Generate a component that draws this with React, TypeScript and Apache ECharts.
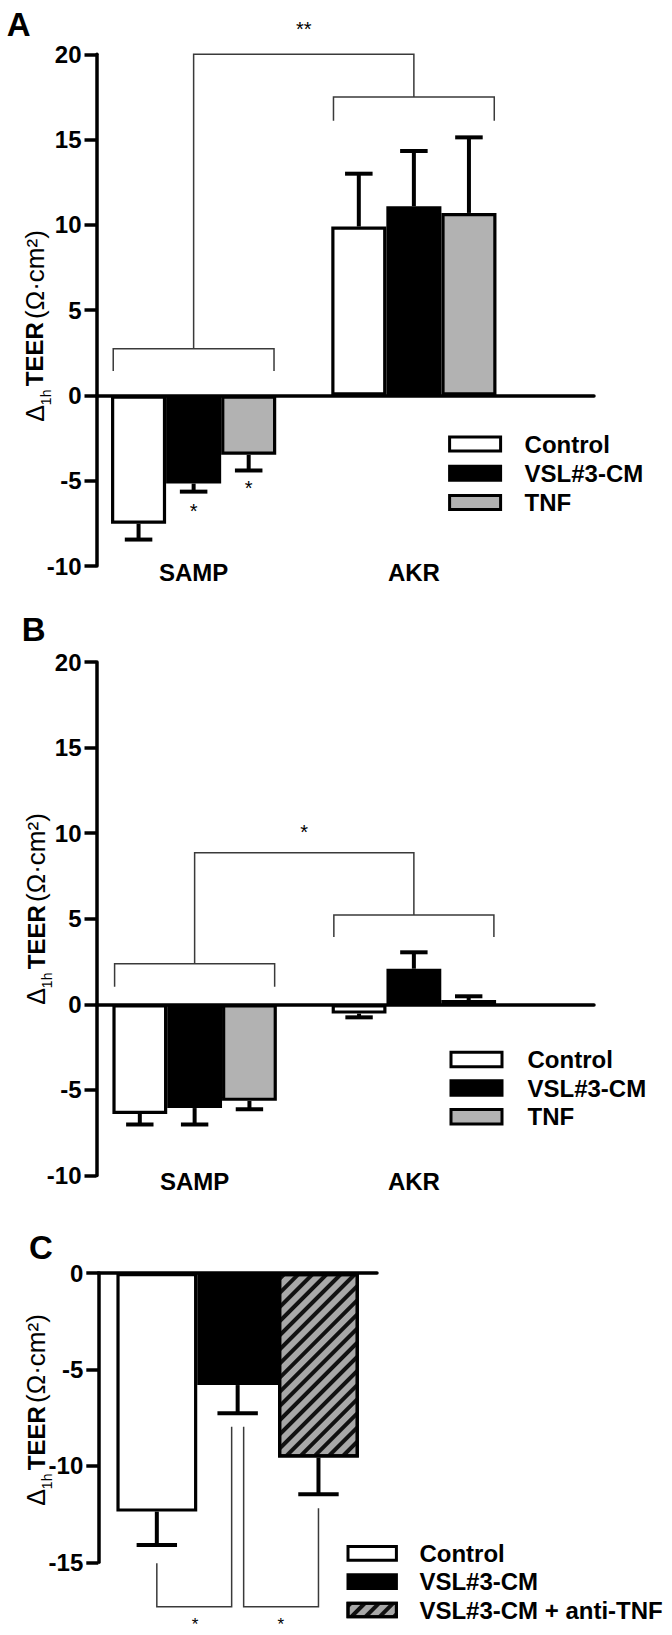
import React, { useEffect, useRef } from 'react';
import * as echarts from 'echarts';

const FONT = '"Liberation Sans", Arial, Helvetica, sans-serif';
const NARROW = '"Liberation Sans Narrow", "Arial Narrow", "Liberation Sans", Arial, sans-serif';

// ---------- shared ----------
const strains = ['SAMP', 'AKR'];
const namesAB = ['Control', 'VSL#3-CM', 'TNF'];
const yRangeAB = [-10, 20];
const yStepAB = 5;

// ---------- panel A ----------
const aControl = [-7.52, 9.9];
const aControlErr = [0.93, 3.1];
const aVsl = [-5.17, 11.09];
const aVslErr = [0.47, 3.24];
const aTnf = [-3.48, 10.7];
const aTnfErr = [0.92, 4.43];
// [category, bracket level, tip level]
const aGroupBrackets = [[0, 2.73, 1.43], [1, 17.5, 16.1]];
// [category, top, left end, right end]
const aLinkBracket = [[0, 20, 2.73, 17.5]];
// [category, value, offset (bands)]
const aStars = [[0, 21.47, 0.5], [0, -6.75, 0], [0, -5.43, 0.25]];
const aStarText = ['**', '*', '*'];

// ---------- panel B ----------
const bControl = [-6.4, -0.54];
const bControlErr = [0.62, 0.22];
const bVsl = [-6.06, 2.08];
const bVslErr = [0.96, 0.96];
const bTnf = [-5.64, 0.25];
const bTnfErr = [0.49, 0.22];
const bGroupBrackets = [[0, 2.37, 1.03], [1, 5.22, 3.93]];
const bLinkBracket = [[0, 8.85, 2.37, 5.22]];
const bStars = [[0, 10.07, 0.5]];
const bStarText = ['*'];

// ---------- panel C ----------
const cNames = ['Control', 'VSL#3-CM', 'VSL#3-CM + anti-TNF'];
const cValues = [-12.37, -5.81, -9.57];
const cErr = [1.73, 1.46, 1.9];
const yRangeC = [-15, 0];
const yStepC = 5;
// [category, base level, from bar, from tip, to bar, to tip]
const cBrackets = [[0, -17.3, 0, -15.05, 1, -7.97], [0, -17.3, 1, -7.97, 2, -12.2]];
const cStars = [[0, -18.2, -0.153], [0, -18.2, 0.155]];
const cStarText = ['*', '*'];

const fills = ['#ffffff', '#000000', '#b2b2b2'];
const hatchFill = '#a8a8a8';

const BAR_AB = 0.25;
const BAR_C = 0.29;

function errorSeries(xi: number, yi: number, data: number[][], frac: number) {
  return {
    type: 'custom', name: 'err' + xi, xAxisIndex: xi, yAxisIndex: yi, data, silent: true, z: 5, clip: false,
    encode: { x: 0, y: 1 },
    renderItem: (params: any, api: any) => {
      const cat = api.value(0), v = api.value(1), e = api.value(2), k = api.value(3);
      const band = api.size([1, 0])[0];
      const bw = band * frac;
      const p0 = api.coord([cat, v]);
      const p1 = api.coord([cat, v >= 0 ? v + e : v - e]);
      const cx = p0[0] + (k - 1) * bw;
      const half = bw / 4;
      const st = { stroke: '#000', lineWidth: 4, lineCap: 'butt' };
      return {
        type: 'group', children: [
          { type: 'line', shape: { x1: cx, y1: p0[1], x2: cx, y2: p1[1] }, style: st },
          { type: 'line', shape: { x1: cx - half, y1: p1[1], x2: cx + half, y2: p1[1] }, style: st },
        ],
      };
    },
  };
}

const thin = { stroke: '#3a3a3a', lineWidth: 1.5, fill: null };

function groupBracketSeries(xi: number, yi: number, data: number[][]) {
  return {
    type: 'custom', name: 'gb' + xi, xAxisIndex: xi, yAxisIndex: yi, data, silent: true, clip: false,
    encode: { x: 0, y: 1 },
    renderItem: (params: any, api: any) => {
      const cat = api.value(0);
      const p = api.coord([cat, api.value(1)]);
      const t = api.coord([cat, api.value(2)]);
      const band = api.size([1, 0])[0];
      const x1 = p[0] - 0.365 * band, x2 = p[0] + 0.365 * band;
      return { type: 'polyline', shape: { points: [[x1, t[1]], [x1, p[1]], [x2, p[1]], [x2, t[1]]] }, style: thin };
    },
  };
}

function linkBracketSeries(xi: number, yi: number, data: number[][]) {
  return {
    type: 'custom', name: 'lb' + xi, xAxisIndex: xi, yAxisIndex: yi, data, silent: true, clip: false,
    encode: { x: 0, y: 1 },
    renderItem: (params: any, api: any) => {
      const top = api.coord([0, api.value(1)]);
      const l = api.coord([0, api.value(2)]);
      const r = api.coord([1, api.value(3)]);
      return { type: 'polyline', shape: { points: [[l[0], l[1]], [l[0], top[1]], [r[0], top[1]], [r[0], r[1]]] }, style: thin };
    },
  };
}

function starSeries(xi: number, yi: number, data: number[][], texts: string[], size: number) {
  return {
    type: 'custom', name: 'st' + xi, xAxisIndex: xi, yAxisIndex: yi, data, silent: true, clip: false,
    encode: { x: 0, y: 1 },
    renderItem: (params: any, api: any) => {
      const p = api.coord([api.value(0), api.value(1)]);
      const band = api.size([1, 0])[0];
      return {
        type: 'text', x: p[0] + api.value(2) * band, y: p[1],
        style: { text: texts[params.dataIndex], fill: '#000', font: `${size}px ${FONT}`, align: 'center', verticalAlign: 'middle' },
      };
    },
  };
}

function cBracketSeries(xi: number, yi: number, data: number[][]) {
  return {
    type: 'custom', name: 'cb', xAxisIndex: xi, yAxisIndex: yi, data, silent: true, clip: false,
    encode: { x: 0, y: 1 },
    renderItem: (params: any, api: any) => {
      const band = api.size([1, 0])[0];
      const bw = band * BAR_C;
      const base = api.coord([0, api.value(1)]);
      const fb = api.value(2), tb = api.value(4);
      const xOf = (bar: number, other: number) => base[0] + (bar - 1) * bw + (bar === 1 ? 6 * Math.sign(other - bar) : 0);
      const xf = xOf(fb, tb), xt = xOf(tb, fb);
      const yf = api.coord([0, api.value(3)])[1];
      const yt = api.coord([0, api.value(5)])[1];
      return { type: 'polyline', shape: { points: [[xf, yf], [xf, base[1]], [xt, base[1]], [xt, yt]] }, style: thin };
    },
  };
}

function barSeries(name: string, xi: number, yi: number, data: number[], color: string, width: string, extra: any = {}) {
  return {
    type: 'bar', name, xAxisIndex: xi, yAxisIndex: yi, data, barWidth: width, barGap: '0%', z: 3,
    itemStyle: { color, borderColor: '#000', borderWidth: 3.2, ...extra },
  };
}

const tickLabel = { fontFamily: FONT, fontSize: 24, fontWeight: 'bold', color: '#000' };

function visibleY(gi: number, min: number, max: number, step: number) {
  return {
    type: 'value', gridIndex: gi, min, max, interval: step,
    axisLine: { show: true, onZero: false, lineStyle: { color: '#000', width: 3.5 } },
    axisTick: { show: true, length: 12, lineStyle: { color: '#000', width: 3.5 } },
    axisLabel: { ...tickLabel, margin: 15 },
    splitLine: { show: false },
  };
}
function hiddenY(gi: number, min: number, max: number, step: number) {
  return { type: 'value', gridIndex: gi, min, max, interval: step, show: false, splitLine: { show: false } };
}
function zeroX(gi: number) {
  return {
    type: 'category', gridIndex: gi, data: [''],
    axisLine: { show: true, onZero: true, lineStyle: { color: '#000', width: 3.5 } },
    axisTick: { show: false }, axisLabel: { show: false },
  };
}
function groupX(gi: number) {
  return {
    type: 'category', gridIndex: gi, data: strains, position: 'bottom',
    axisLine: { show: false, onZero: false }, axisTick: { show: false },
    axisLabel: { ...tickLabel, margin: 6, verticalAlign: 'middle' },
  };
}

function legend(left: number, top: number, w: number, h: number, gap: number, pad: number, data: string[]) {
  return {
    orient: 'vertical', left, top, padding: 0, itemWidth: w, itemHeight: h, itemGap: gap,
    selectedMode: false, icon: 'rect', data,
    itemStyle: { borderWidth: 3, borderColor: '#000' },
    textStyle: { fontFamily: FONT, fontSize: 24, fontWeight: 'bold', color: '#000', padding: [0, 0, 0, pad] },
  };
}

function yTitle(x: number, y: number) {
  return {
    type: 'text', x, y, rotation: Math.PI / 2, silent: true,
    style: {
      text: '{d|Δ}{s|1h} {b|TEER} {n|(Ω·cm²)}',
      align: 'center', verticalAlign: 'middle', fill: '#000',
      rich: {
        d: { fontFamily: FONT, fontSize: 25, lineHeight: 36, fill: '#000' },
        s: { fontFamily: FONT, fontSize: 14, lineHeight: 14, verticalAlign: 'bottom', fill: '#000' },
        b: { fontFamily: NARROW, fontSize: 24, fontWeight: 'bold', lineHeight: 36, fill: '#000' },
        n: { fontFamily: FONT, fontSize: 26, lineHeight: 36, fill: '#000' },
      },
    },
  };
}
function letter(t: string, x: number, y: number) {
  return { type: 'text', x, y, silent: true, style: { text: t, font: `bold 33px ${FONT}`, fill: '#000', align: 'left', verticalAlign: 'middle' } };
}

const errA = [
  ...aControl.map((v, i) => [i, v, aControlErr[i], 0]),
  ...aVsl.map((v, i) => [i, v, aVslErr[i], 1]),
  ...aTnf.map((v, i) => [i, v, aTnfErr[i], 2]),
];
const errB = [
  ...bControl.map((v, i) => [i, v, bControlErr[i], 0]),
  ...bVsl.map((v, i) => [i, v, bVslErr[i], 1]),
  ...bTnf.map((v, i) => [i, v, bTnfErr[i], 2]),
];
const errC = cValues.map((v, i) => [0, v, cErr[i], i]);

const hatch = {
  symbol: 'rect', symbolSize: 1, dashArrayX: [1, 0], dashArrayY: [4, 5.5], rotation: -Math.PI / 4, color: '#111111',
};

export default function App() {
  const ref = useRef<HTMLDivElement>(null);
  useEffect(() => {
    if (!ref.current) return;
    const chart = echarts.init(ref.current, null, { renderer: 'svg' });
    const option: any = {
      animation: false,
      backgroundColor: '#ffffff',
      grid: [
        { left: 83.5, top: 54.3, width: 440.5, height: 511.7 },
        { left: 96.5, top: 54.3, width: 497.5, height: 511.7 },
        { left: 85, top: 662, width: 438.5, height: 513.5 },
        { left: 96.5, top: 662, width: 497.5, height: 513.5 },
        { left: 98.3, top: 1273, width: 278.7, height: 289.3 },
      ],
      xAxis: [groupX(0), zeroX(1), groupX(2), zeroX(3), zeroX(4)],
      yAxis: [
        hiddenY(0, yRangeAB[0], yRangeAB[1], yStepAB),
        visibleY(1, yRangeAB[0], yRangeAB[1], yStepAB),
        hiddenY(2, yRangeAB[0], yRangeAB[1], yStepAB),
        visibleY(3, yRangeAB[0], yRangeAB[1], yStepAB),
        visibleY(4, yRangeC[0], yRangeC[1], yStepC),
      ],
      legend: [
        legend(448.1, 432.1, 51, 14, 5.2, 19, namesAB),
        legend(449.5, 1047.4, 51, 14.5, 4.7, 20.5, namesAB),
        legend(346.5, 1541.4, 48.4, 13.7, 4.3, 18, cNames),
      ],
      graphic: [
        letter('A', 6.7, 24.2), letter('B', 21.7, 629.2), letter('C', 29, 1247.5),
        yTitle(34.5, 326), yTitle(36, 909), yTitle(36, 1410),
      ],
      series: [
        barSeries(namesAB[0], 0, 0, aControl, fills[0], '25%'),
        barSeries(namesAB[1], 0, 0, aVsl, fills[1], '25%'),
        barSeries(namesAB[2], 0, 0, aTnf, fills[2], '25%'),
        errorSeries(0, 0, errA, BAR_AB),
        groupBracketSeries(0, 0, aGroupBrackets),
        linkBracketSeries(0, 0, aLinkBracket),
        starSeries(0, 0, aStars, aStarText, 20),

        barSeries(namesAB[0], 2, 2, bControl, fills[0], '25%'),
        barSeries(namesAB[1], 2, 2, bVsl, fills[1], '25%'),
        barSeries(namesAB[2], 2, 2, bTnf, fills[2], '25%'),
        errorSeries(2, 2, errB, BAR_AB),
        groupBracketSeries(2, 2, bGroupBrackets),
        linkBracketSeries(2, 2, bLinkBracket),
        starSeries(2, 2, bStars, bStarText, 20),

        barSeries(cNames[0], 4, 4, [cValues[0]], fills[0], '29%'),
        barSeries(cNames[1], 4, 4, [cValues[1]], fills[1], '29%'),
        barSeries(cNames[2], 4, 4, [cValues[2]], hatchFill, '29%', { decal: hatch }),
        errorSeries(4, 4, errC, BAR_C),
        cBracketSeries(4, 4, cBrackets),
        starSeries(4, 4, cStars, cStarText, 17),
      ],
    };
    chart.setOption(option);
    return () => chart.dispose();
  }, []);
  return <div ref={ref} style={{ position: 'absolute', left: 0, top: 0, width: 672, height: 1635 }} />;
}
